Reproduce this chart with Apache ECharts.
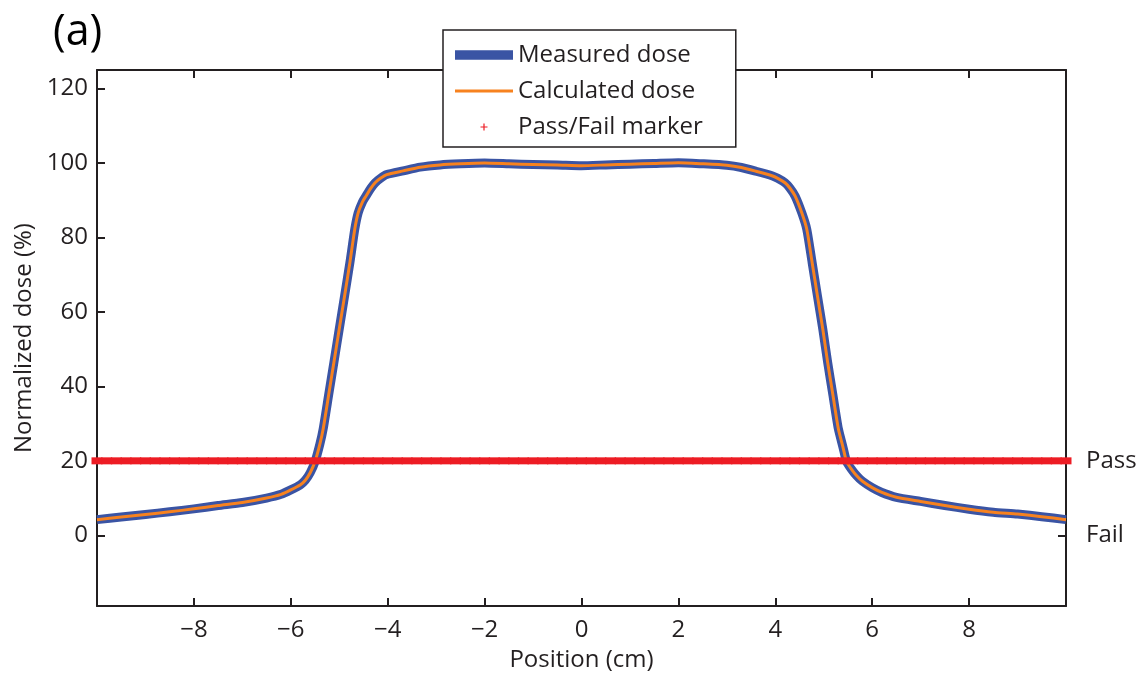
<!DOCTYPE html>
<html>
<head>
<meta charset="utf-8">
<script src="https://cdn.jsdelivr.net/npm/echarts@6/dist/echarts.min.js"></script>
<style>
html,body{margin:0;padding:0;background:#fff;}
#chart{width:1143px;height:677px;}
</style>
</head>
<body>
<div id="chart"></div>
<script>
// ---- data ----
const positions = [-10, -9.5, -9, -8.5, -8, -7.5, -7, -6.5, -6.2, -6, -5.8, -5.7, -5.6, -5.5, -5.4, -5.33, -5.22, -5.11, -5.0, -4.89, -4.78, -4.68, -4.61, -4.52, -4.45, -4.35, -4.26, -4.15, -4.02, -3.68, -3.33, -2.92, -2.5, -2, -1.5, -1, -0.5, 0, 0.5, 1, 1.5, 2, 2.5, 3, 3.3, 3.6, 3.93, 4.05, 4.2, 4.3, 4.41, 4.55, 4.65, 4.76, 4.87, 4.98, 5.08, 5.19, 5.3, 5.4, 5.47, 5.57, 5.68, 5.8, 6, 6.2, 6.5, 7, 7.5, 8, 8.5, 9, 9.5, 10];
const measuredDose = [4.2, 4.9, 5.6, 6.3, 7.1, 8.0, 8.8, 10.0, 11.0, 12.2, 13.6, 14.8, 16.8, 19.8, 24.5, 28.7, 37.6, 46.5, 55.4, 64.3, 73.3, 82.2, 86.6, 89.6, 91.1, 93.2, 94.7, 95.9, 96.9, 97.9, 98.9, 99.5, 99.8, 100.0, 99.8, 99.6, 99.5, 99.3, 99.5, 99.7, 99.9, 100.1, 99.8, 99.4, 98.8, 97.8, 96.6, 95.9, 94.7, 93.3, 91.1, 86.5, 82.2, 73.3, 64.3, 55.4, 46.5, 37.6, 28.7, 23.5, 19.8, 17.8, 16.0, 14.5, 12.8, 11.5, 10.2, 9.1, 8.0, 7.0, 6.2, 5.7, 5.0, 4.2];
const calculatedDose = [4.2, 4.9, 5.6, 6.3, 7.1, 8.0, 8.8, 10.0, 11.0, 12.2, 13.6, 14.8, 16.8, 19.8, 24.5, 28.7, 37.6, 46.5, 55.4, 64.3, 73.3, 82.2, 86.6, 89.6, 91.1, 93.2, 94.7, 95.9, 96.9, 97.9, 98.9, 99.5, 99.8, 100.0, 99.8, 99.6, 99.5, 99.3, 99.5, 99.7, 99.9, 100.1, 99.8, 99.4, 98.8, 97.8, 96.6, 95.9, 94.7, 93.3, 91.1, 86.5, 82.2, 73.3, 64.3, 55.4, 46.5, 37.6, 28.7, 23.5, 19.8, 17.8, 16.0, 14.5, 12.8, 11.5, 10.2, 9.1, 8.0, 7.0, 6.2, 5.7, 5.0, 4.2];
// Pass/Fail marker positions (every marker reads "Pass")
const markerPositions = [-10, -9.8, -9.6, -9.4, -9.2, -9, -8.8, -8.6, -8.4, -8.2, -8, -7.8, -7.6, -7.4, -7.2, -7, -6.8, -6.6, -6.4, -6.2, -6, -5.8, -5.6, -5.4, -5.2, -5, -4.8, -4.6, -4.4, -4.2, -4, -3.8, -3.6, -3.4, -3.2, -3, -2.8, -2.6, -2.4, -2.2, -2, -1.8, -1.6, -1.4, -1.2, -1, -0.8, -0.6, -0.4, -0.2, 0, 0.2, 0.4, 0.6, 0.8, 1, 1.2, 1.4, 1.6, 1.8, 2, 2.2, 2.4, 2.6, 2.8, 3, 3.2, 3.4, 3.6, 3.8, 4, 4.2, 4.4, 4.6, 4.8, 5, 5.2, 5.4, 5.6, 5.8, 6, 6.2, 6.4, 6.6, 6.8, 7, 7.2, 7.4, 7.6, 7.8, 8, 8.2, 8.4, 8.6, 8.8, 9, 9.2, 9.4, 9.6, 9.8, 10];
const PASS_LEVEL = 20;
const FAIL_LEVEL = 0;
const xTicks = [-8, -6, -4, -2, 0, 2, 4, 6, 8];
const yTicks = [0, 20, 40, 60, 80, 100, 120];
const passFailTicks = [FAIL_LEVEL, PASS_LEVEL];
const passFailLabels = {0: 'Fail', 20: 'Pass'};

// ---- chart ----
const FONT = '"Open Sans", "Liberation Sans", sans-serif';
const INK = '#231f20';
const BLUE = '#3a54a4';
const ORANGE = '#f7821f';
const RED = '#ed1c24';
const chart = echarts.init(document.getElementById('chart'), null, {renderer: 'canvas'});

const zip = (xs, ys) => xs.map((x, i) => [x, ys[i]]);
const ANCHORS = 'M0,0h0.01v0.01h-0.01z M57.99,9.99h0.01v0.01h-0.01z ';
const plusIcon = 'path://' + ANCHORS + 'M28.4,1.5H29.6V4.4H32.5V5.6H29.6V8.5H28.4V5.6H25.5V4.4H28.4Z';
const thinLineIcon = 'path://' + ANCHORS + 'M0,3.5H58V6.5H0Z';
const thickLineIcon = 'path://' + ANCHORS + 'M0,0.3H58V9.7H0Z';

const axisLineStyle = {show: true, onZero: false, lineStyle: {color: INK, width: 2}};

chart.setOption({
  animation: false,
  backgroundColor: '#ffffff',
  title: {
    text: '(a)', left: 48, top: 6,
    textStyle: {fontFamily: FONT, fontSize: 43, fontWeight: 'normal', color: '#000'}
  },
  grid: {left: 97, right: 77, top: 70, bottom: 69, containLabel: false},
  legend: {
    orient: 'vertical', left: 443, top: 30,
    itemWidth: 58, itemHeight: 10, itemGap: 12,
    padding: [13, 33, 8, 12],
    backgroundColor: '#ffffff', borderColor: INK, borderWidth: 1.5, borderRadius: 0,
    textStyle: {fontFamily: FONT, fontSize: 24, color: INK},
    data: [
      {name: 'Measured dose', icon: thickLineIcon, itemStyle: {color: BLUE}},
      {name: 'Calculated dose', icon: thinLineIcon, itemStyle: {color: ORANGE}},
      {name: 'Pass/Fail marker', icon: plusIcon, itemStyle: {color: RED}}
    ]
  },
  xAxis: [{
    type: 'value', min: -10, max: 10, interval: 2, position: 'bottom',
    axisLine: axisLineStyle,
    axisTick: {show: true, inside: true, length: 8, lineStyle: {color: INK, width: 2}, customValues: xTicks},
    axisLabel: {
      show: true, margin: 12, fontFamily: FONT, fontSize: 24, color: INK, customValues: xTicks,
      formatter: v => String(v).replace('-', '\u2212')
    },
    splitLine: {show: false},
    name: 'Position (cm)', nameLocation: 'middle', nameGap: 42,
    nameTextStyle: {fontFamily: FONT, fontSize: 24, color: INK}
  }, {
    type: 'value', min: -10, max: 10, interval: 2, position: 'top',
    axisLine: axisLineStyle,
    axisTick: {show: true, inside: true, length: 8, lineStyle: {color: INK, width: 2}, customValues: xTicks},
    axisLabel: {show: false},
    splitLine: {show: false}
  }],
  yAxis: [{
    type: 'value', min: -19, max: 125, position: 'left',
    axisLine: axisLineStyle,
    axisTick: {show: true, inside: true, length: 8, lineStyle: {color: INK, width: 2}, customValues: yTicks},
    axisLabel: {show: true, margin: 9, fontFamily: FONT, fontSize: 24, color: INK, customValues: yTicks},
    splitLine: {show: false},
    name: 'Normalized dose (%)', nameLocation: 'middle', nameGap: 61,
    nameTextStyle: {fontFamily: FONT, fontSize: 24, color: INK}
  }, {
    type: 'value', min: -19, max: 125, position: 'right',
    axisLine: axisLineStyle,
    axisTick: {show: true, inside: true, length: 8, lineStyle: {color: INK, width: 2}, customValues: passFailTicks},
    axisLabel: {
      show: true, margin: 20, fontFamily: FONT, fontSize: 24, color: INK, customValues: passFailTicks,
      formatter: v => passFailLabels[v] || ''
    },
    splitLine: {show: false}
  }],
  series: [{
    name: 'Measured dose', type: 'line', xAxisIndex: 0, yAxisIndex: 0,
    data: zip(positions, measuredDose),
    symbol: 'none', showSymbol: false, smooth: 0.2,
    lineStyle: {color: BLUE, width: 9, join: 'round', cap: 'butt'},
    itemStyle: {color: BLUE}, z: 2
  }, {
    name: 'Calculated dose', type: 'line', xAxisIndex: 0, yAxisIndex: 0,
    data: zip(positions, calculatedDose),
    symbol: 'none', showSymbol: false, smooth: 0.2,
    lineStyle: {color: ORANGE, width: 3, join: 'round'},
    itemStyle: {color: ORANGE}, z: 3
  }, {
    name: 'Pass/Fail marker', type: 'scatter', xAxisIndex: 0, yAxisIndex: 0,
    data: markerPositions.map(x => [x, PASS_LEVEL]),
    symbol: 'rect', symbolSize: [11, 7], clip: false, silent: true,
    itemStyle: {color: RED, opacity: 1}, z: 4
  }]
});
</script>
</body>
</html>
